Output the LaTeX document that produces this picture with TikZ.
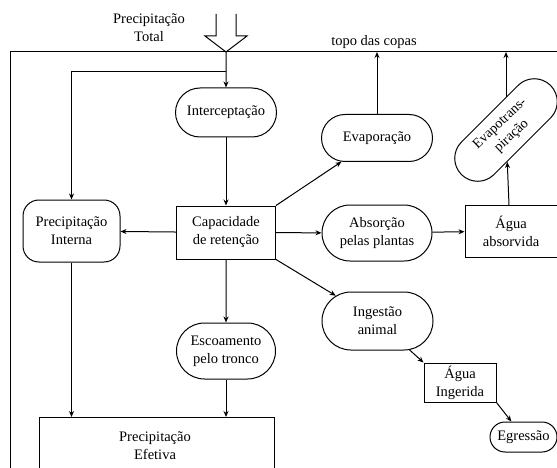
\documentclass[tikz,border=0pt]{standalone}
\usepackage{fontspec}
\setmainfont{Liberation Serif}
\usetikzlibrary{shapes.misc,arrows.meta}
\begin{document}
\begin{tikzpicture}[x=1pt,y=-1pt,
  every node/.style={font=\fontsize{14.5}{18}\selectfont, align=center, inner sep=0pt},
  box/.style={draw, line width=1pt, rectangle},
  oval/.style={draw, line width=1pt, rounded rectangle},
  conn/.style={line width=1pt},
  arr/.style={line width=1pt, -{Stealth[length=6pt,width=5pt]}}]
\useasboundingbox (0,0) rectangle (557,468);
\clip (0,0) rectangle (557,468);
% frame
\draw[conn] (10,480) -- (10,52) -- (570,52);
% big hollow arrow
\draw[line width=1pt] (216,14) -- (216,36) -- (205,36) -- (226,52) -- (247,36) -- (236,36) -- (236,14);
\coordinate (tip) at (226,52);
\coordinate (j1) at (226,72);
% labels
\node (ptotal) at (149,28) {Precipitação\\Total};
\node (topo) at (374,42) {topo das copas};
% nodes
\node[oval, minimum width=101pt, minimum height=49pt] (interc) at (226,112.5) {Interceptação};
\node[draw, line width=1pt, rounded corners=16pt, minimum width=97pt, minimum height=62pt] (precint) at (71.5,231) {Precipitação\\Interna};
\node[box, minimum width=99pt, minimum height=53pt] (capac) at (226,232.5) {Capacidade\\de retenção};
\node[oval, minimum width=111pt, minimum height=47pt] (evap) at (377,138) {Evaporação};
\node[oval, minimum width=110pt, minimum height=56pt] (absor) at (377,233) {Absorção\\pelas plantas};
\node[box, minimum width=92pt, minimum height=52pt] (aguaabs) at (511,231) {Água\\absorvida};
\node[oval, minimum width=111pt, minimum height=58pt] (ingest) at (377.5,321) {Ingestão\\animal};
\node[box, minimum width=72pt, minimum height=39pt] (aguaing) at (460,382.5) {Água\\Ingerida};
\node[oval, minimum width=67pt, minimum height=30pt] (egress) at (523.5,437) {Egressão};
\node[oval, minimum width=99pt, minimum height=56pt] (escoam) at (226,351) {Escoamento\\pelo tronco};
\node[box, minimum width=235pt, minimum height=70pt, anchor=north west] (prefet) at (39,417) {};
\node (prefettext) at (155,446) {Precipitação\\Efetiva};
\node[oval, rotate=45, minimum width=126pt, minimum height=46pt] (evapo) at (506,130) {};
\node[rotate=43, font=\fontsize{14}{17}\selectfont] (evapotext) at (506,130) {Evapotrans-\\piração};
% connectors
\draw[arr] (tip) -- (interc);
\draw[arr] (j1) -| (precint.north);
\draw[arr] (interc) -- (capac);
\draw[arr] (capac) -- (precint);
\draw[arr] (capac.north east) -- (evap);
\draw[arr] (capac) -- (absor);
\draw[arr] (absor) -- (aguaabs);
\draw[arr] (capac.south east) -- (ingest);
\draw[arr] (ingest) -- (aguaing.north west);
\draw[arr] (aguaing.south east) -- (egress);
\draw[arr] (capac) -- (escoam);
\draw[arr] (escoam.south) -- (escoam.south |- prefet.north);
\draw[arr] (precint.south) -- (precint.south |- prefet.north);
\draw[arr] (evap) -- (evap |- tip);
\coordinate (ea) at (509,205);
\draw[arr] (ea) -- (evapo);
\draw[arr] (evapo) -- (evapo |- tip);
\end{tikzpicture}
\end{document}
